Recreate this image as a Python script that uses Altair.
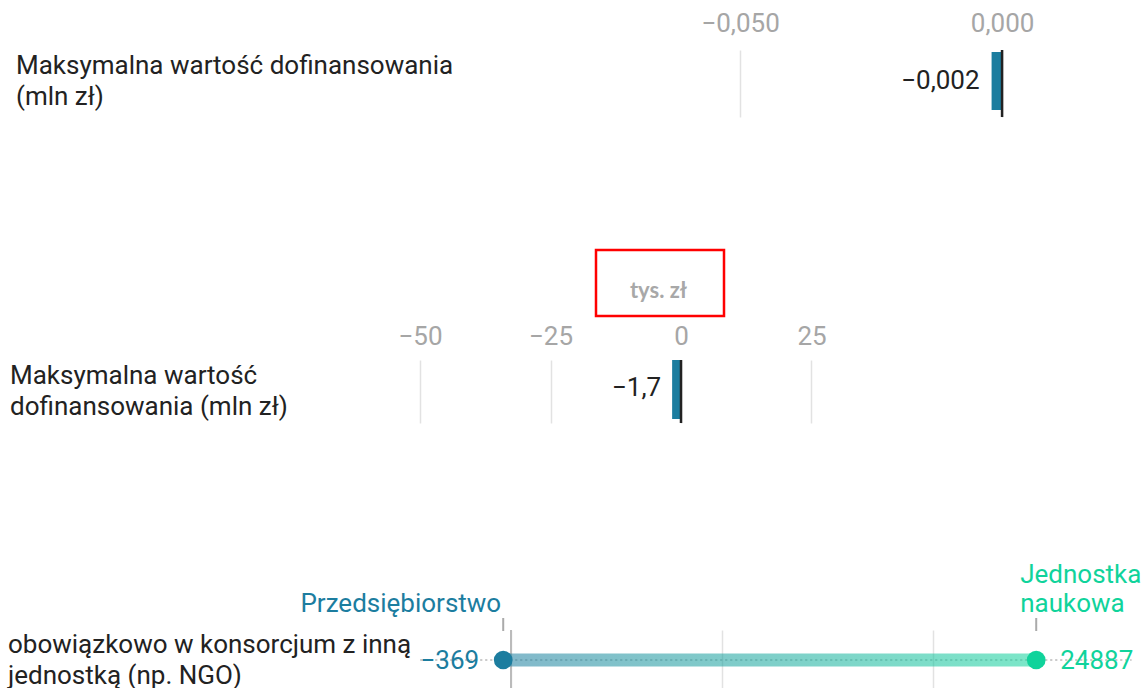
import altair as alt
import pandas as pd

FONT = "Roboto"
FS = 26
BLUE = "#1c7d9f"
GREEN = "#10d39b"

# ---- data ----
row_labels = [
    "Maksymalna wartość dofinansowania\n(mln zł)",
    "Maksymalna wartość\ndofinansowania (mln zł)",
    "obowiązkowo w konsorcjum z inną\njednostką (np. NGO)",
]
p1_values = [-0.002]
p1_texts = ["−0,002"]
p1_ticks = [-0.05, 0.0]
p2_values = [-1.7]
p2_texts = ["−1,7"]
p2_ticks = [-50, -25, 0, 25]
p2_unit = "tys. zł"
p3_groups = ["Przedsiębiorstwo", "Jednostka naukowa"]
p3_group_text = ["Przedsiębiorstwo", "Jednostka\nnaukowa"]
p3_values = [-369, 24887]
p3_texts = ["−369", "24887"]
p3_colors = [BLUE, GREEN]
p3_ticks = [0, 10000, 20000]

W = 832

df1 = pd.DataFrame({"cat": [row_labels[0]], "value": p1_values, "label": p1_texts})
df2 = pd.DataFrame({"cat": [row_labels[1]], "value": p2_values, "label": p2_texts})
df3 = pd.DataFrame({"cat": [row_labels[2]] * 2, "group": p3_groups, "gtext": p3_group_text,
                    "value": p3_values, "label": p3_texts})
df3r = pd.DataFrame({"cat": [row_labels[2]], "start": [min(p3_values)], "end": [max(p3_values)]})

yenc = alt.Y("cat:N", axis=None, title=None)


def ylabel(df, left, dy):
    return alt.Chart(df).mark_text(align="left", baseline="middle", lineBreak="\n", fontSize=FS,
                                   lineHeight=31, color="#222", font=FONT, dy=dy).encode(
        x=alt.value(left - 300), y=yenc, text="cat:N")


def spacer(h):
    return alt.Chart(pd.DataFrame({"a": [0]})).mark_point(opacity=0).encode(
        x=alt.value(0), y=alt.value(0)).properties(width=W, height=h)


# ---- panel 1 ----
x1 = alt.X("value:Q", title=None,
           scale=alt.Scale(domain=[-0.134, 0.0248], nice=False, zero=False),
           axis=alt.Axis(orient="top", values=p1_ticks,
                         labelExpr="replace(format(datum.value, '.3f'), '.', ',')",
                         labelPadding=14))
b1 = alt.Chart(df1)
p1 = alt.layer(
    b1.mark_rule(opacity=0).encode(x=alt.value(-300), y=alt.value(-50), y2=alt.value(0)),
    b1.mark_bar(size=58, yOffset=-2.5, color=BLUE).encode(x=x1, x2=alt.datum(0), y=yenc),
    b1.mark_rule(color="#222", strokeWidth=2.5).encode(x=alt.datum(0)),
    b1.mark_text(align="right", baseline="middle", dx=-12, dy=-3, fontSize=FS, color="#222",
                 font=FONT).encode(x="value:Q", y=yenc, text="label:N"),
    ylabel(df1, 16, -17.5),
).properties(width=W, height=67)

# ---- panel 2 ----
x2 = alt.X("value:Q",
           scale=alt.Scale(domain=[-72.99, 86.4], nice=False, zero=False),
           axis=alt.Axis(orient="top", values=p2_ticks, format="d", labelPadding=11,
                         title=p2_unit, titleX=358, titleY=-70, titleAlign="center",
                         titleBaseline="middle", titleFont="Lato", titleFontSize=22,
                         titleFontWeight="bold", titleColor="#a8a8a8"))
b2 = alt.Chart(df2)
p2 = alt.layer(
    b2.mark_bar(size=59, yOffset=-2, color=BLUE).encode(x=x2, x2=alt.datum(0), y=yenc),
    b2.mark_rule(color="#222", strokeWidth=2.5).encode(x=alt.datum(0)),
    b2.mark_text(align="right", baseline="middle", dx=-11, dy=-4, fontSize=FS, color="#222",
                 font=FONT).encode(x="value:Q", y=yenc, text="label:N"),
    b2.mark_rect(filled=False, color="#ff0000", strokeWidth=2.5).encode(
        x=alt.value(296), x2=alt.value(424), y=alt.value(-110), y2=alt.value(-44)),
    ylabel(df2, 10, -15.5),
).properties(width=W, height=63)

# ---- panel 3 ----
sc3 = alt.Scale(domain=[-9998, 29426], nice=False, zero=False)
ax3 = alt.Axis(orient="top", values=p3_ticks, labels=False)
x3 = alt.X("value:Q", title=None, scale=sc3, axis=ax3)
b3 = alt.Chart(df3)
color3 = alt.Color("group:N", scale=alt.Scale(domain=p3_groups, range=p3_colors), legend=None)
grad = alt.Gradient(gradient="linear", x1=0, x2=1, y1=0, y2=0,
                    stops=[alt.GradientStop(color=BLUE, offset=0),
                           alt.GradientStop(color=GREEN, offset=1)])
first = alt.datum.group == p3_groups[0]
second = alt.datum.group == p3_groups[1]
p3 = alt.layer(
    b3.mark_rule(color="#bbbbbb", strokeWidth=2).encode(x=alt.datum(0)),
    b3.mark_rule(color="#c8c8c8", strokeWidth=1.5, strokeDash=[2, 3]).encode(
        x=alt.datum(-4300), x2=alt.datum(29400), y=yenc),
    alt.Chart(df3r).mark_bar(size=13, opacity=0.55, color=grad).encode(
        x=alt.X("start:Q", scale=sc3, axis=ax3, title=None), x2="end:Q", y=yenc),
    b3.mark_circle(size=350, opacity=1).encode(x=x3, y=yenc, color=color3),
    b3.mark_rule(color="#aaaaaa", strokeWidth=2).encode(x="value:Q", y=alt.value(-12), y2=alt.value(1)),
    b3.transform_filter(first).mark_text(align="right", baseline="middle", dx=-24, dy=1,
                                         fontSize=FS, font=FONT).encode(
        x="value:Q", y=yenc, text="label:N", color=color3),
    b3.transform_filter(second).mark_text(align="left", baseline="middle", dx=24, dy=1,
                                          fontSize=FS, font=FONT).encode(
        x="value:Q", y=yenc, text="label:N", color=color3),
    b3.transform_filter(first).mark_text(align="right", baseline="middle", dx=-2, dy=-56,
                                         fontSize=FS, font=FONT).encode(
        x="value:Q", y=yenc, text="gtext:N", color=color3),
    b3.transform_filter(second).mark_text(align="left", baseline="middle", dx=-16, dy=-85,
                                          fontSize=FS, font=FONT, lineBreak="\n",
                                          lineHeight=29).encode(
        x="value:Q", y=yenc, text="gtext:N", color=color3),
    ylabel(df3r, 8, -15),
).properties(width=W, height=60)

chart = alt.vconcat(p1, spacer(243), p2, spacer(207), p3, spacing=0, bounds="flush").properties(
    padding=0
).configure(font=FONT).configure_view(stroke=None).configure_axis(
    labelFont=FONT, labelFontSize=FS, labelColor="#a6a6a6", ticks=False, tickSize=0,
    domain=False, grid=True, gridColor="#e2e2e2", gridWidth=1.5
)

chart.save("out.html", embed_options={"renderer": "svg", "actions": False})
